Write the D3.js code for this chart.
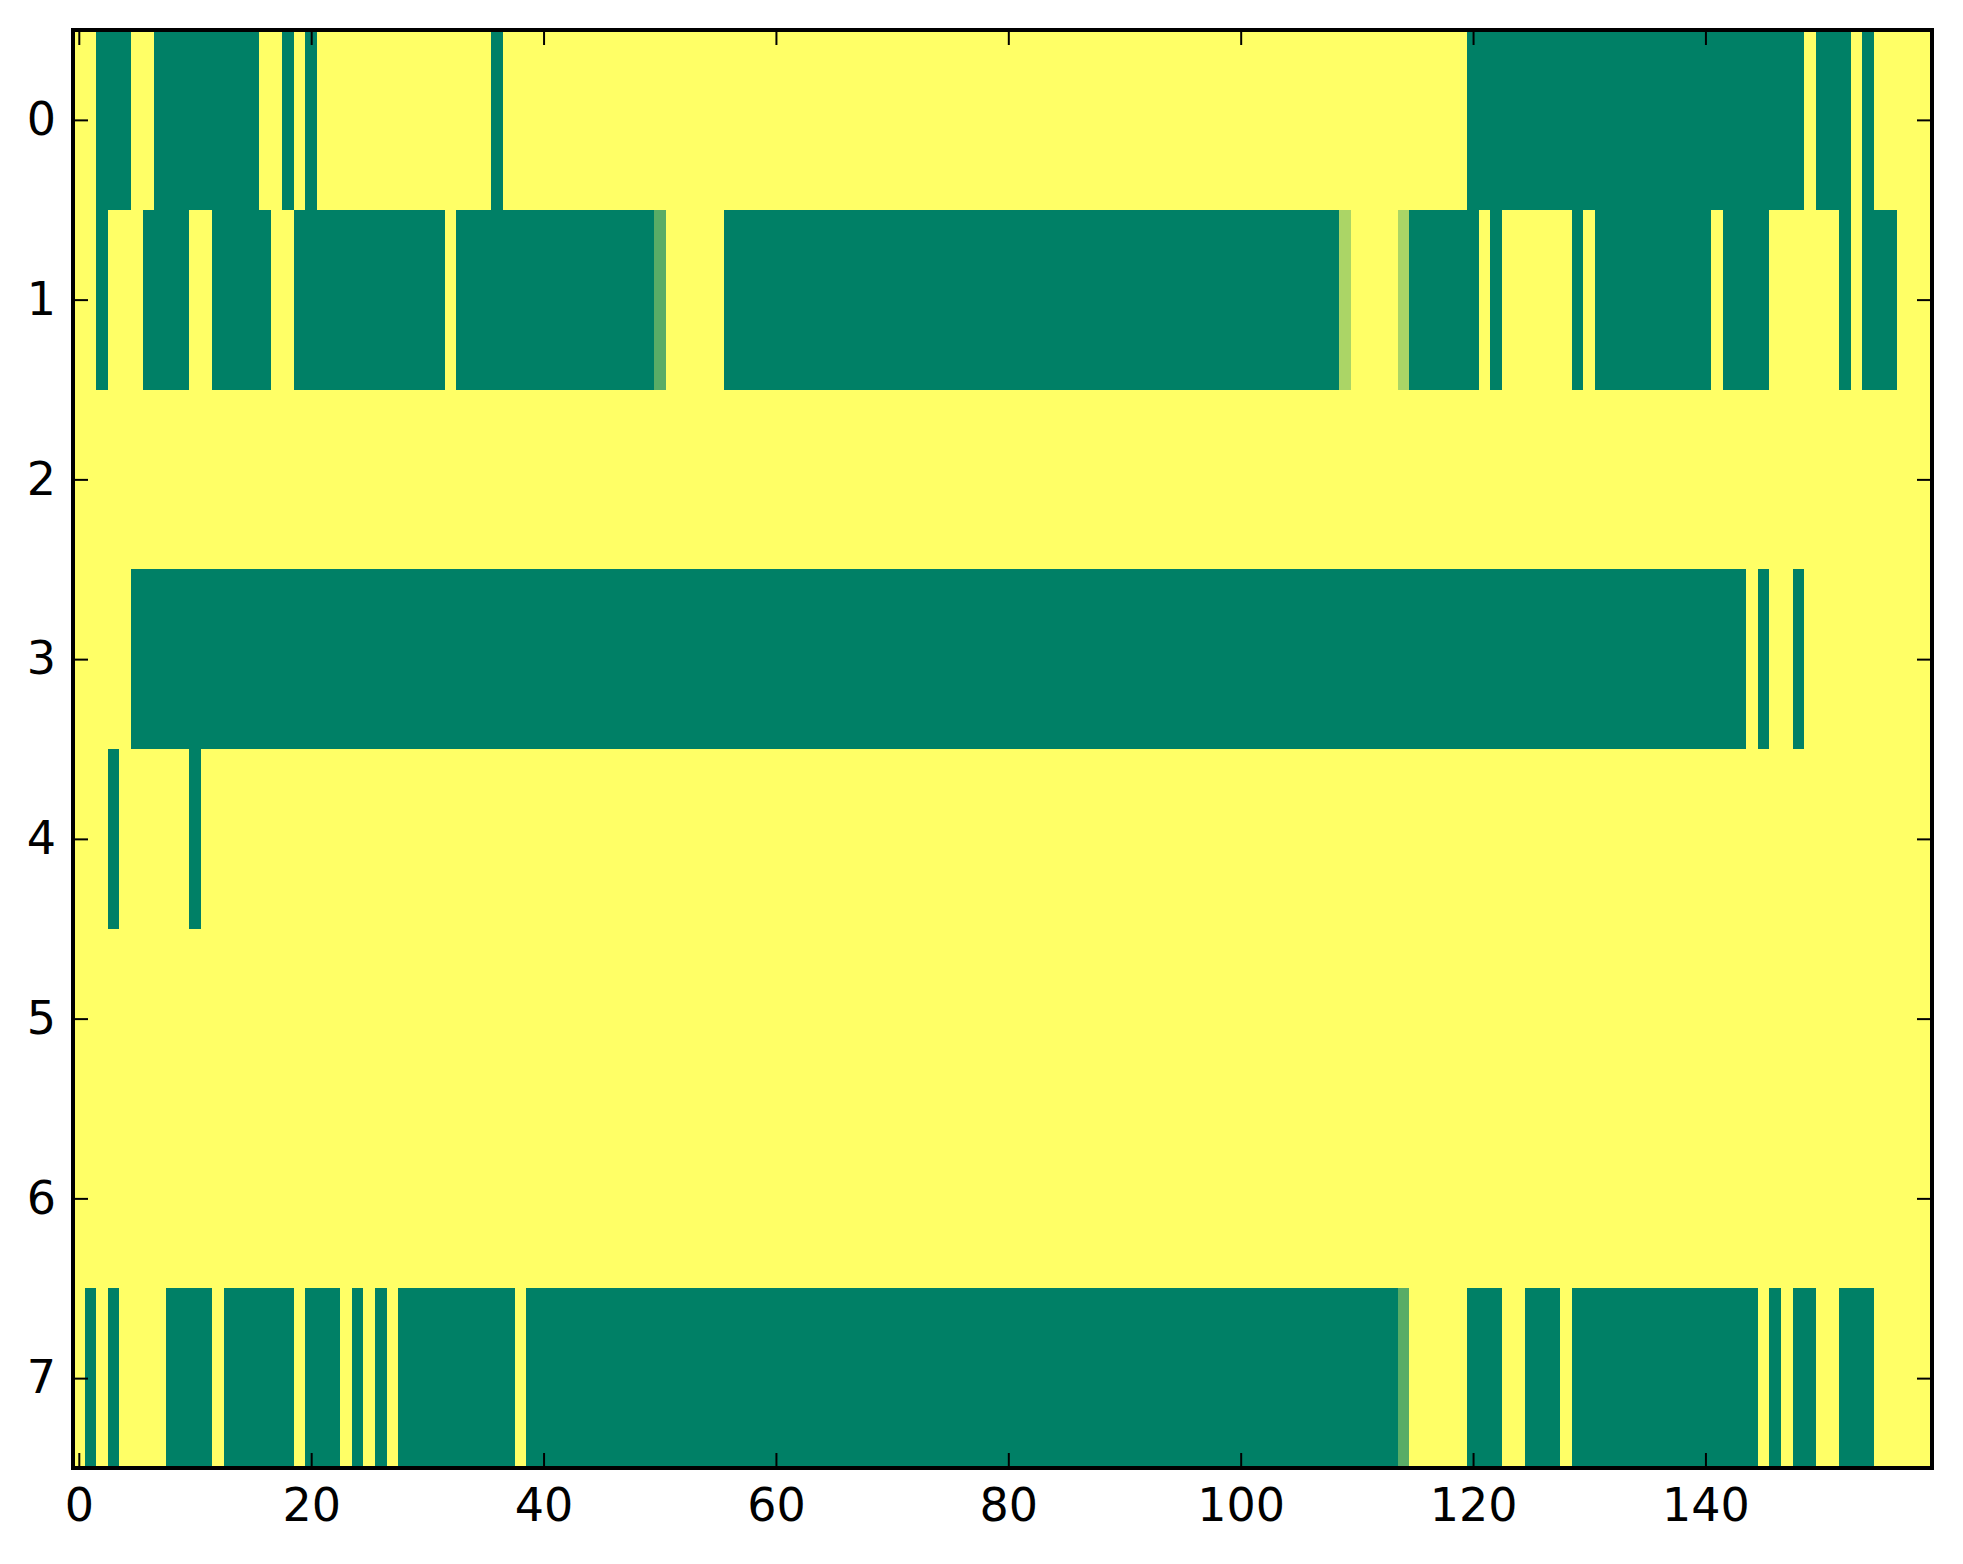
<!DOCTYPE html>
<html>
<head>
<meta charset="utf-8">
<script src="https://cdn.jsdelivr.net/npm/d3@7"></script>
<style>
  body { margin: 0; background: #fff; }
  svg { display: block; }
  .tick text { font-family: "DejaVu Sans", sans-serif; }
</style>
</head>
<body>
<div id="chart"></div>
<script>
// data: 8 rows x 160 columns, 1 = yellow, 0 = green
const row0 = [
  1,1,0,0,0,1,1,0,0,0, 0,0,0,0,0,0,1,1,0,1,
  0,1,1,1,1,1,1,1,1,1, 1,1,1,1,1,1,0,1,1,1,
  1,1,1,1,1,1,1,1,1,1, 1,1,1,1,1,1,1,1,1,1,
  1,1,1,1,1,1,1,1,1,1, 1,1,1,1,1,1,1,1,1,1,
  1,1,1,1,1,1,1,1,1,1, 1,1,1,1,1,1,1,1,1,1,
  1,1,1,1,1,1,1,1,1,1, 1,1,1,1,1,1,1,1,1,1,
  0,0,0,0,0,0,0,0,0,0, 0,0,0,0,0,0,0,0,0,0,
  0,0,0,0,0,0,0,0,0,1, 0,0,0,1,0,1,1,1,1,1
];
const row1 = [
  1,1,0,1,1,1,0,0,0,0, 1,1,0,0,0,0,0,1,1,0,
  0,0,0,0,0,0,0,0,0,0, 0,0,1,0,0,0,0,0,0,0,
  0,0,0,0,0,0,0,0,0,0, 0.35,1,1,1,1,1,0,0,0,0,
  0,0,0,0,0,0,0,0,0,0, 0,0,0,0,0,0,0,0,0,0,
  0,0,0,0,0,0,0,0,0,0, 0,0,0,0,0,0,0,0,0,0,
  0,0,0,0,0,0,0,0,0,0.67, 1,1,1,1,0.67,0,0,0,0,0,
  0,1,0,1,1,1,1,1,1,0, 1,0,0,0,0,0,0,0,0,0,
  0,1,0,0,0,0,1,1,1,1, 1,1,0,1,0,0,0,1,1,1
];
const row2 = [
  1,1,1,1,1,1,1,1,1,1, 1,1,1,1,1,1,1,1,1,1,
  1,1,1,1,1,1,1,1,1,1, 1,1,1,1,1,1,1,1,1,1,
  1,1,1,1,1,1,1,1,1,1, 1,1,1,1,1,1,1,1,1,1,
  1,1,1,1,1,1,1,1,1,1, 1,1,1,1,1,1,1,1,1,1,
  1,1,1,1,1,1,1,1,1,1, 1,1,1,1,1,1,1,1,1,1,
  1,1,1,1,1,1,1,1,1,1, 1,1,1,1,1,1,1,1,1,1,
  1,1,1,1,1,1,1,1,1,1, 1,1,1,1,1,1,1,1,1,1,
  1,1,1,1,1,1,1,1,1,1, 1,1,1,1,1,1,1,1,1,1
];
const row3 = [
  1,1,1,1,1,0,0,0,0,0, 0,0,0,0,0,0,0,0,0,0,
  0,0,0,0,0,0,0,0,0,0, 0,0,0,0,0,0,0,0,0,0,
  0,0,0,0,0,0,0,0,0,0, 0,0,0,0,0,0,0,0,0,0,
  0,0,0,0,0,0,0,0,0,0, 0,0,0,0,0,0,0,0,0,0,
  0,0,0,0,0,0,0,0,0,0, 0,0,0,0,0,0,0,0,0,0,
  0,0,0,0,0,0,0,0,0,0, 0,0,0,0,0,0,0,0,0,0,
  0,0,0,0,0,0,0,0,0,0, 0,0,0,0,0,0,0,0,0,0,
  0,0,0,0,1,0,1,1,0,1, 1,1,1,1,1,1,1,1,1,1
];
const row4 = [
  1,1,1,0,1,1,1,1,1,1, 0,1,1,1,1,1,1,1,1,1,
  1,1,1,1,1,1,1,1,1,1, 1,1,1,1,1,1,1,1,1,1,
  1,1,1,1,1,1,1,1,1,1, 1,1,1,1,1,1,1,1,1,1,
  1,1,1,1,1,1,1,1,1,1, 1,1,1,1,1,1,1,1,1,1,
  1,1,1,1,1,1,1,1,1,1, 1,1,1,1,1,1,1,1,1,1,
  1,1,1,1,1,1,1,1,1,1, 1,1,1,1,1,1,1,1,1,1,
  1,1,1,1,1,1,1,1,1,1, 1,1,1,1,1,1,1,1,1,1,
  1,1,1,1,1,1,1,1,1,1, 1,1,1,1,1,1,1,1,1,1
];
const row5 = [
  1,1,1,1,1,1,1,1,1,1, 1,1,1,1,1,1,1,1,1,1,
  1,1,1,1,1,1,1,1,1,1, 1,1,1,1,1,1,1,1,1,1,
  1,1,1,1,1,1,1,1,1,1, 1,1,1,1,1,1,1,1,1,1,
  1,1,1,1,1,1,1,1,1,1, 1,1,1,1,1,1,1,1,1,1,
  1,1,1,1,1,1,1,1,1,1, 1,1,1,1,1,1,1,1,1,1,
  1,1,1,1,1,1,1,1,1,1, 1,1,1,1,1,1,1,1,1,1,
  1,1,1,1,1,1,1,1,1,1, 1,1,1,1,1,1,1,1,1,1,
  1,1,1,1,1,1,1,1,1,1, 1,1,1,1,1,1,1,1,1,1
];
const row6 = [
  1,1,1,1,1,1,1,1,1,1, 1,1,1,1,1,1,1,1,1,1,
  1,1,1,1,1,1,1,1,1,1, 1,1,1,1,1,1,1,1,1,1,
  1,1,1,1,1,1,1,1,1,1, 1,1,1,1,1,1,1,1,1,1,
  1,1,1,1,1,1,1,1,1,1, 1,1,1,1,1,1,1,1,1,1,
  1,1,1,1,1,1,1,1,1,1, 1,1,1,1,1,1,1,1,1,1,
  1,1,1,1,1,1,1,1,1,1, 1,1,1,1,1,1,1,1,1,1,
  1,1,1,1,1,1,1,1,1,1, 1,1,1,1,1,1,1,1,1,1,
  1,1,1,1,1,1,1,1,1,1, 1,1,1,1,1,1,1,1,1,1
];
const row7 = [
  1,0,1,0,1,1,1,1,0,0, 0,0,1,0,0,0,0,0,0,1,
  0,0,0,1,0,1,0,1,0,0, 0,0,0,0,0,0,0,0,1,0,
  0,0,0,0,0,0,0,0,0,0, 0,0,0,0,0,0,0,0,0,0,
  0,0,0,0,0,0,0,0,0,0, 0,0,0,0,0,0,0,0,0,0,
  0,0,0,0,0,0,0,0,0,0, 0,0,0,0,0,0,0,0,0,0,
  0,0,0,0,0,0,0,0,0,0, 0,0,0,0,0.35,1,1,1,1,1,
  0,0,0,1,1,0,0,0,1,0, 0,0,0,0,0,0,0,0,0,0,
  0,0,0,0,0,1,0,1,0,0, 1,1,0,0,0,1,1,1,1,1
];
const rows = [row0, row1, row2, row3, row4, row5, row6, row7];

const xTicks = [0, 20, 40, 60, 80, 100, 120, 140];
const yTicks = [0, 1, 2, 3, 4, 5, 6, 7];

const width = 1963, height = 1564;
const margin = {top: 30, right: 31, bottom: 96, left: 73};

// cells as a flat table for the join
const cells = rows.flatMap((r, i) => r.map((v, j) => ({row: i, col: j, value: v})));
const nCols = row0.length;

const x = d3.scaleLinear()
  .domain([-0.5, nCols - 0.5])
  .range([margin.left, width - margin.right]);
const y = d3.scaleLinear()
  .domain([-0.5, rows.length - 0.5])
  .range([margin.top, height - margin.bottom]);

// matplotlib "summer": green (0) -> yellow (1)
const color = d3.scaleLinear()
  .domain([0, 1])
  .range(["#008066", "#ffff66"])
  .interpolate(d3.interpolateRgb);

const svg = d3.select("#chart")
  .append("svg")
    .attr("width", width)
    .attr("height", height);

svg.append("g")
  .attr("shape-rendering", "crispEdges")
  .selectAll("rect")
  .data(cells)
  .join("rect")
    .attr("x", d => x(d.col - 0.5))
    .attr("y", d => y(d.row - 0.5))
    .attr("width", d => x(d.col + 0.5) - x(d.col - 0.5) + 0.5)
    .attr("height", d => y(d.row + 0.5) - y(d.row - 0.5) + 0.5)
    .attr("fill", d => color(d.value));

const tickLen = 15;
const fontSize = 46;

function styleAxis(g) {
  g.select(".domain").remove();
  g.selectAll(".tick line").attr("stroke", "#000").attr("stroke-width", 2);
  g.selectAll(".tick text")
    .attr("fill", "#000")
    .style("font-size", fontSize + "px");
}

// bottom axis with labels, ticks pointing inward
svg.append("g")
  .attr("transform", `translate(0,${height - margin.bottom})`)
  .call(d3.axisBottom(x).tickValues(xTicks).tickSizeInner(-tickLen).tickSizeOuter(0).tickPadding(20))
  .call(styleAxis);

// top axis, ticks only
svg.append("g")
  .attr("transform", `translate(0,${margin.top})`)
  .call(d3.axisTop(x).tickValues(xTicks).tickSizeInner(-tickLen).tickSizeOuter(0).tickFormat(""))
  .call(styleAxis);

// left axis with labels
svg.append("g")
  .attr("transform", `translate(${margin.left},0)`)
  .call(d3.axisLeft(y).tickValues(yTicks).tickSizeInner(-tickLen).tickSizeOuter(0).tickPadding(17))
  .call(styleAxis);

// right axis, ticks only
svg.append("g")
  .attr("transform", `translate(${width - margin.right},0)`)
  .call(d3.axisRight(y).tickValues(yTicks).tickSizeInner(-tickLen).tickSizeOuter(0).tickFormat(""))
  .call(styleAxis);

// frame
svg.append("rect")
  .attr("x", margin.left)
  .attr("y", margin.top)
  .attr("width", width - margin.left - margin.right)
  .attr("height", height - margin.top - margin.bottom)
  .attr("fill", "none")
  .attr("stroke", "#000")
  .attr("stroke-width", 4);
</script>
</body>
</html>
